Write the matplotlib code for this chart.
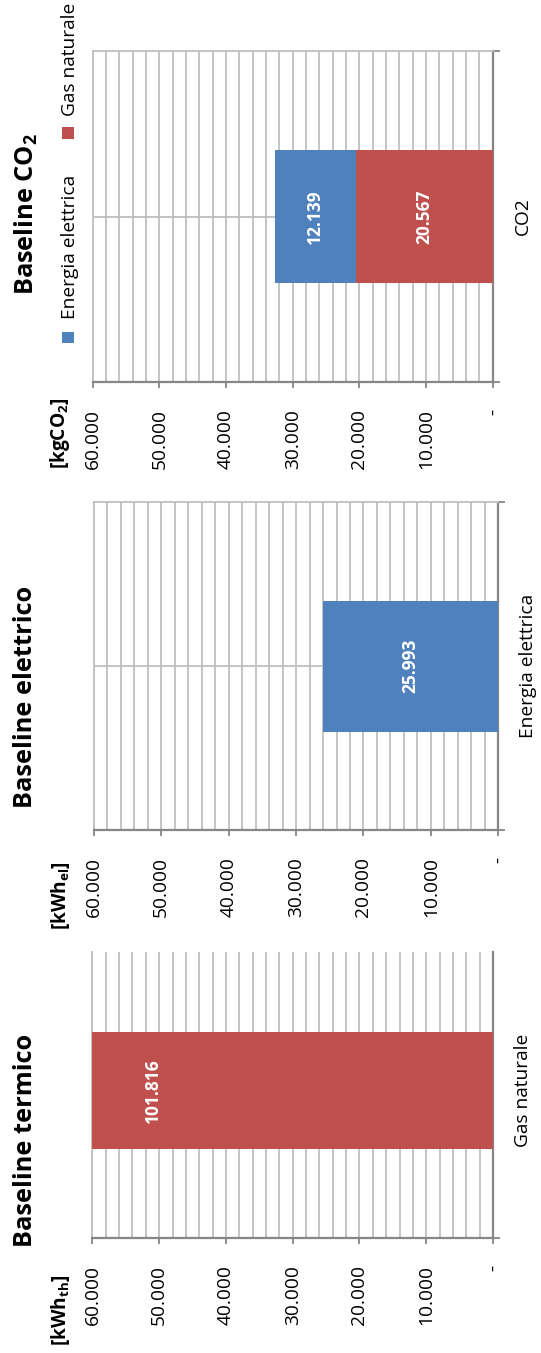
import matplotlib
matplotlib.use("Agg")
import matplotlib.pyplot as plt
from matplotlib.ticker import MultipleLocator, FuncFormatter
from matplotlib.patches import Rectangle

plt.rcParams["font.family"] = ["Open Sans", "DejaVu Sans"]

W, H = 541, 1353
BLUE = "#4F81BD"
RED = "#C0504D"
GRID = "#BFBFBF"
AXIS = "#868686"

# ---- data ----
series_names = ["Energia elettrica", "Gas naturale"]
series_colors = [BLUE, RED]

termico_categories = ["Gas naturale"]
termico_gas = [101816]

elettrico_categories = ["Energia elettrica"]
elettrico_energia = [25993]

co2_categories = ["CO2"]
co2_gas = [20567]
co2_energia = [12139]

value_max = 60000
value_step = 10000
grid_step = 2000


def it_fmt(v, pos=None):
    if abs(v) < 0.5:
        return "-"
    return f"{v:,.0f}".replace(",", ".")


def px(x, y):
    return x / W, 1 - y / H


def axes_box(x0, y0, x1, y1):
    return [x0 / W, 1 - y1 / H, (x1 - x0) / W, (y1 - y0) / H]


fig = plt.figure(figsize=(W / 100, H / 100), dpi=100)
fig.patch.set_facecolor("white")

PT = 72 / 100  # points per pixel


def setup(ax, categories, ylim=(-0.5, 0.5), top_line=True):
    ax.set_xlim(value_max, 0)
    ax.set_ylim(*ylim)
    ax.xaxis.set_major_locator(MultipleLocator(value_step))
    ax.xaxis.set_minor_locator(MultipleLocator(grid_step))
    ax.xaxis.set_major_formatter(FuncFormatter(it_fmt))
    ax.grid(axis="x", which="both", color=GRID, lw=1.3)
    ax.set_axisbelow(True)
    ax.tick_params(axis="x", which="major", length=6 * PT, width=1.3,
                   color=AXIS, pad=15, labelsize=13.8, labelrotation=90)
    ax.tick_params(axis="x", which="minor", length=0)
    ax.spines["bottom"].set_color(AXIS)
    ax.spines["bottom"].set_linewidth(1.6)
    ax.spines["right"].set_color(AXIS)
    ax.spines["right"].set_linewidth(1.6)
    ax.spines["top"].set_color(GRID)
    ax.spines["top"].set_linewidth(1.3)
    ax.spines["top"].set_visible(top_line)
    ax.spines["left"].set_color(GRID)
    ax.spines["left"].set_linewidth(1.3)
    ax.yaxis.tick_right()
    ax.set_yticks(range(len(categories)))
    ax.set_yticklabels(categories, rotation=90, va="center")
    lo, hi = ylim
    ax.set_yticks([lo, hi] if top_line else [lo], minor=True)
    ax.tick_params(axis="y", which="major", length=0, pad=15, labelsize=13.8)
    ax.tick_params(axis="y", which="minor", length=7 * PT, width=1.3, color=AXIS)
    ax.axhline(0, color=GRID, lw=1.3, zorder=0.5)


def bar_label(ax, left, value):
    ax.text(left + value / 2, 0, it_fmt(value), rotation=90, ha="center",
            va="center", color="white", fontsize=12.5, fontweight="bold",
            zorder=5)


# ---- Baseline CO2 ----
ax1 = fig.add_axes(axes_box(92.7, 50.7, 492.7, 382.3))
setup(ax1, co2_categories)
ax1.barh(co2_categories, co2_gas, height=0.40, color=RED, zorder=3)
ax1.barh(co2_categories, co2_energia, left=co2_gas, height=0.40, color=BLUE, zorder=3)
bar_label(ax1, 0, co2_gas[0])
bar_label(ax1, co2_gas[0], co2_energia[0])

# ---- Baseline elettrico ----
ax2 = fig.add_axes(axes_box(93.8, 502.3, 498.3, 830.0))
setup(ax2, elettrico_categories)
ax2.barh(elettrico_categories, elettrico_energia, height=0.40, color=BLUE, zorder=3)
bar_label(ax2, 0, elettrico_energia[0])

# ---- Baseline termico ----
ax3 = fig.add_axes(axes_box(92.4, 951.7, 493.0, 1238.3))
setup(ax3, termico_categories, ylim=(-0.515, 0.485), top_line=False)
ax3.barh(termico_categories, termico_gas, height=0.408, color=RED, zorder=3)
bar_label(ax3, 0, termico_gas[0])

# ---- titles and units ----
title_kw = dict(rotation=90, ha="center", va="center", fontsize=18.3,
                fontweight="bold")
fig.text(*px(26, 214), "Baseline CO$_{\\mathregular{2}}$", **title_kw)
fig.text(*px(26, 697), "Baseline elettrico", **title_kw)
fig.text(*px(26, 1140), "Baseline termico", **title_kw)

unit_kw = dict(rotation=90, ha="center", va="center", fontsize=13.8,
               fontweight="bold")
fig.text(*px(60, 433), "[kgCO$_{\\mathregular{2}}$]", **unit_kw)
fig.text(*px(60, 896), "[kWh$_{\\mathregular{el}}$]", **unit_kw)
fig.text(*px(60, 1310), "[kWh$_{\\mathregular{th}}$]", **unit_kw)

# ---- legend for the CO2 panel ----
legend_items = [(series_names[0], series_colors[0], 337.5, 247),
                (series_names[1], series_colors[1], 133.0, 59.5)]
for name, color, sq_y, txt_y in legend_items:
    x0, y0 = px(62, sq_y + 5.5)
    fig.add_artist(Rectangle((x0, y0), 12 / W, 11 / H, transform=fig.transFigure,
                             facecolor=color, edgecolor="none"))
    fig.text(*px(70, txt_y), name, rotation=90, ha="center", va="center",
             fontsize=13.8)

fig.savefig("out.png", dpi=100, facecolor="white")
